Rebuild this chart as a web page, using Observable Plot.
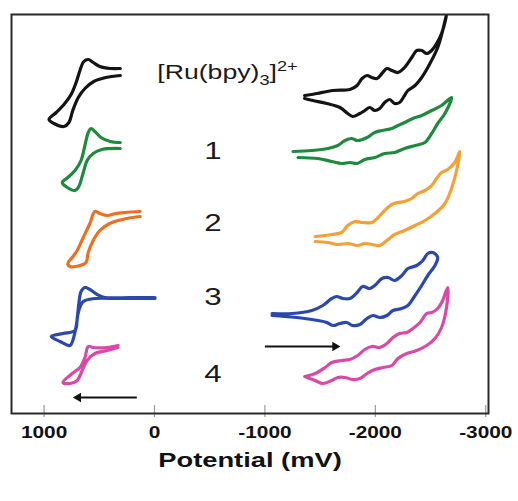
<!DOCTYPE html>
<html>
<head>
<meta charset="utf-8">
<script src="https://cdn.jsdelivr.net/npm/d3@7"></script>
<script src="https://cdn.jsdelivr.net/npm/@observablehq/plot@0.6"></script>
<style>
  html, body { margin: 0; padding: 0; background: #fff; }
  #chart { width: 518px; }
</style>
</head>
<body>
<div id="chart"></div>
<script>
// ---- Data (x: potential in mV, y: current + vertical offset, arbitrary units) ----
const xTicks = [1000, 0, -1000, -2000, -3000];
const xLabel = "Potential (mV)";
const seriesLabels = ["[Ru(bpy)3]2+", "1", "2", "3", "4"];
const seriesLabelX = [-25, -530, -530, -530, -530];
const seriesLabelY = [341, 262, 190, 116, 39];

// oxidation scans (left)
const blackLeftX = [310,400,495,555,600,640,675,710,755,820,890,955,910,820,775,740,690,630,550,440,310];
const blackLeftY = [345,345,347,351,354,352,343,331,319,309,301,294,290,287,291,303,316,325,332,336,338];
const greenLeftX = [310,400,485,540,575,600,630,665,720,785,835,790,720,685,645,610,555,475,310];
const greenLeftY = [271,272,276,282,285,281,268,253,243,236,231,226,223,227,241,253,260,264,265];
const orangeLeftX = [130,265,350,430,495,540,585,645,700,745,785,765,675,620,600,555,495,405,250,130];
const orangeLeftY = [202,201,200,198,200,202,190,176,163,156,150,147,148,151,161,173,183,190,195,197];
const blueLeftX = [-5,220,450,520,585,630,665,685,700,720,830,935,855,765,740,710,685,645,540,310,-5];
const blueLeftY = [116,116,116,119,124,126,122,110,95,83,80,77,72,68,73,87,103,112,115,115,115];
const pinkLeftX = [330,430,555,600,630,675,745,830,765,700,655,610,540,430,330];
const pinkLeftY = [68,66,66,67,56,46,40,31,30,33,43,53,60,63,66];

// reduction scans (right)
const blackRightX = [-1360,-1470,-1615,-1770,-1835,-1880,-1925,-1970,-2015,-2060,-2105,-2150,-2205,-2265,-2330,-2375,-2420,-2465,-2510,-2555,-2600,-2630,-2645,
  -2610,-2565,-2495,-2420,-2360,-2295,-2265,-2220,-2175,-2130,-2085,-2040,-1995,-1950,-1905,-1860,-1795,-1750,-1680,-1560,-1435,-1360];
const blackRightY = [318,320,323,324,328,335,338,336,335,340,345,343,341,346,356,363,363,360,363,370,380,391,399,
  383,366,350,336,328,323,318,311,310,314,311,305,303,306,303,300,297,300,306,310,313,315];
const greenRightX = [-1255,-1425,-1570,-1660,-1725,-1785,-1840,-1925,-1995,-2060,-2150,-2205,-2265,-2340,-2420,-2510,-2600,-2690,
  -2630,-2565,-2510,-2450,-2360,-2265,-2175,-2085,-1995,-1905,-1835,-1770,-1695,-1605,-1480,-1300];
const greenRightY = [262,263,265,268,273,275,273,276,281,283,285,288,291,295,298,303,308,316,
  300,290,280,271,268,265,261,260,256,254,250,251,250,252,255,256];
const orangeRightX = [-1455,-1605,-1695,-1750,-1815,-1885,-1970,-2025,-2085,-2150,-2205,-2265,-2330,-2385,-2450,-2510,-2555,-2600,-2655,-2720,-2765,
  -2740,-2690,-2630,-2540,-2450,-2360,-2265,-2175,-2105,-2040,-1970,-1905,-1840,-1750,-1660,-1570,-1455];
const orangeRightY = [177,179,181,188,192,191,191,196,203,209,211,212,215,220,223,228,235,241,244,251,262,
  245,225,210,200,193,188,183,179,173,168,169,170,168,170,169,171,172];
const blueRightX = [-1065,-1245,-1425,-1525,-1605,-1650,-1705,-1770,-1835,-1885,-1950,-1995,-2060,-2115,-2175,-2240,-2295,-2375,-2430,-2475,-2520,-2565,
  -2540,-2475,-2420,-2360,-2295,-2240,-2160,-2105,-2040,-1980,-1925,-1860,-1795,-1740,-1680,-1615,-1560,-1480,-1360,-1180,-1065];
const blueRightY = [100,100,103,108,115,117,115,115,121,127,125,128,135,136,133,138,145,148,153,160,161,156,
  148,138,128,118,108,105,103,98,96,98,95,89,88,91,90,88,91,93,95,97,98];
const pinkRightX = [-1360,-1455,-1545,-1605,-1695,-1770,-1840,-1905,-1970,-2040,-2105,-2160,-2220,-2285,-2340,-2405,-2465,-2510,-2565,-2610,-2655,
  -2645,-2600,-2540,-2465,-2375,-2285,-2205,-2150,-2070,-1995,-1925,-1860,-1795,-1725,-1660,-1605,-1525,-1455,-1380];
const pinkRightY = [37,40,46,51,53,54,58,64,67,66,70,76,80,81,85,91,100,101,105,113,126,
  106,86,75,68,63,60,55,48,46,44,40,35,34,36,36,33,30,33,36];

// scan direction arrows
const arrowX1 = [160, -1000];
const arrowX2 = [690, -1635];
const arrowY = [16, 67];

// ---- Build tables ----
const curves = [
  {x: blackLeftX, y: blackLeftY, color: "#141414"},
  {x: greenLeftX, y: greenLeftY, color: "#1f8a3e"},
  {x: orangeLeftX, y: orangeLeftY, color: "#ef6f22"},
  {x: blueLeftX, y: blueLeftY, color: "#2c48ac"},
  {x: pinkLeftX, y: pinkLeftY, color: "#d94aa6"},
  {x: blackRightX, y: blackRightY, color: "#141414"},
  {x: greenRightX, y: greenRightY, color: "#1f8a3e"},
  {x: orangeRightX, y: orangeRightY, color: "#f4a034"},
  {x: blueRightX, y: blueRightY, color: "#2c48ac"},
  {x: pinkRightX, y: pinkRightY, color: "#d94aa6"}
];
const rows = curves.flatMap((c, i) => c.x.map((x, j) => ({id: i, x, y: c.y[j], color: c.color})));
const arrows = arrowX1.map((x1, i) => ({x1, x2: arrowX2[i], y: arrowY[i]}));
const labels = seriesLabels.map((t, i) => ({t, x: seriesLabelX[i], y: seriesLabelY[i]}));

const plot = Plot.plot({
  width: 518,
  height: 501,
  marginLeft: 11,
  marginRight: 30,
  marginTop: 14,
  marginBottom: 88,
  style: {fontFamily: "'Liberation Sans', Arial, sans-serif", background: "#fff", color: "#111"},
  x: {domain: [1295, -3025], label: null},
  y: {domain: [0, 399], axis: null},
  color: {type: "identity"},
  marks: [
    Plot.ruleX(xTicks, {x: d => d, y1: -4, y2: 8, stroke: "#9a9a9a", strokeWidth: 1.2}),
    Plot.axisX(xTicks, {tickSize: 0, tickPadding: 13, tickFormat: d => String(d), fontSize: 16, fontWeight: "bold", fill: "#111", label: null}),
    Plot.line(rows, {x: "x", y: "y", z: "id", stroke: "color", strokeWidth: 3.2, curve: "catmull-rom", strokeLinejoin: "round", strokeLinecap: "round", clip: true}),
    Plot.frame({stroke: "#2a2a2a", strokeWidth: 2}),
    Plot.link(arrows, {x1: "x1", x2: "x2", y1: "y", y2: "y", stroke: "#111", strokeWidth: 2}),
    Plot.dot(arrows, {x: "x2", y: "y", symbol: "triangle", r: 3.5, fill: "#111", stroke: null, rotate: d => d.x2 > d.x1 ? -90 : 90}),
    Plot.text(labels.slice(0, 1), {x: "x", y: "y", text: "t", textAnchor: "start", fontSize: 20.5, fill: "#1a1a1a"}),
    Plot.text(labels.slice(1), {x: "x", y: "y", text: "t", textAnchor: "middle", fontSize: 24, fill: "#1a1a1a"}),
    Plot.text([xLabel], {frameAnchor: "bottom", dy: 53, text: d => d, fontSize: 21, fontWeight: "bold", fill: "#111"})
  ]
});

document.getElementById("chart").append(plot);

// subscript / superscript for the complex label
plot.querySelectorAll("text").forEach(t => {
  if (t.textContent === seriesLabels[0]) {
    const ns = "http://www.w3.org/2000/svg";
    t.textContent = "";
    const parts = [
      {s: "[Ru(bpy)", dy: 0, fs: null},
      {s: "3", dy: 6, fs: 14},
      {s: "]", dy: -6, fs: null},
      {s: "2+", dy: -8, fs: 14}
    ];
    parts.forEach(p => {
      const ts = document.createElementNS(ns, "tspan");
      ts.textContent = p.s;
      if (p.dy) ts.setAttribute("dy", p.dy);
      if (p.fs) ts.setAttribute("font-size", p.fs);
      t.appendChild(ts);
    });
  }
});

// the reference typography is horizontally wide: stretch glyphs
plot.querySelectorAll("text").forEach(t => {
  const w = t.getComputedTextLength();
  if (w > 0) {
    t.setAttribute("textLength", (w * 1.3).toFixed(1));
    t.setAttribute("lengthAdjust", "spacingAndGlyphs");
  }
});
</script>
</body>
</html>
